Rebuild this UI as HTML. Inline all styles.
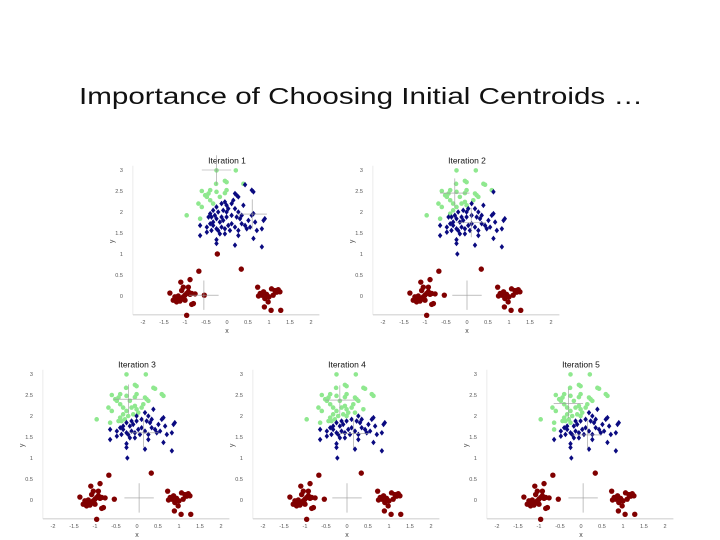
<!DOCTYPE html>
<html><head><meta charset="utf-8">
<style>
html,body{margin:0;padding:0;background:#fff;}
svg{display:block;font-family:"Liberation Sans",sans-serif;}
</style></head>
<body>
<svg id="s" width="720" height="540" viewBox="0 0 720 540">
<text x="361" y="104" text-anchor="middle" font-size="23" fill="#111" textLength="564" lengthAdjust="spacingAndGlyphs">Importance of Choosing Initial Centroids …</text>
</svg>
<script>
// cluster points (data units)
const topX = [-0.25,0.21,-0.05,-0.01,0.39,0.43,-0.6,-0.52,-0.44,-0.4,-0.25,-0.05,-0.01,-0.26,-0.68,-0.6,-0.4,-0.33,-0.96,-0.64,-0.17,-0.48,
0.19,0.23,0.27,0.15,0.11,-0.05,-0.01,-0.13,-0.25,-0.33,-0.40,-0.37,-0.29,-0.21,-0.09,0.03,0.19,0.27,0.35,0.23,0.11,-0.01,-0.09,-0.17,-0.25,-0.33,-0.40,-0.48,-0.64,-0.64,-0.48,-0.37,-0.25,-0.13,-0.05,0.03,0.11,0.19,0.27,0.35,0.43,0.51,0.59,0.63,0.67,0.55,0.47,0.71,0.83,0.87,0.90,0.63,0.83,0.19,0.27,-0.05,-0.25,-0.25,-0.21,-0.17,-0.33,0.07,0.31,0.39,0.59,0.63,-0.13,-0.44,-0.01];
const topY = [2.99,2.99,2.74,2.71,2.67,2.65,2.5,2.4,2.44,2.52,2.48,2.45,2.52,2.67,2.2,2.12,2.28,2.2,1.92,1.84,2.36,2.36,
2.44,2.40,2.36,2.28,2.20,2.24,2.16,2.20,2.12,2.04,1.96,1.88,1.92,2.00,2.04,2.08,2.08,2.00,1.92,1.88,1.92,1.88,1.80,1.76,1.84,1.76,1.72,1.64,1.68,1.44,1.52,1.56,1.60,1.64,1.60,1.68,1.72,1.64,1.56,1.72,1.68,1.80,1.92,1.96,1.76,1.64,1.60,1.56,1.60,1.80,1.84,1.37,1.17,1.21,1.44,1.48,1.34,1.25,1.56,1.48,1.68,1.56,1.84,2.16,2.52,2.48,1.88,1.88,2.00];
const lowX = [-1.36,-1.24,-1.16,-1.2,-1.12,-1.08,-1.04,-1.0,-0.96,-0.92,-0.88,-0.84,-1.08,-1.04,-0.92,-0.88,-1.1,-0.67,-0.8,-0.84,-0.96,-0.54,-1.28,-1.2,-1.0,-1.14,-0.76,-1.16,
0.73,0.79,0.87,0.94,1.0,1.06,1.14,1.22,1.26,1.1,0.9,0.98,0.89,1.05,1.28,0.75,1.18,0.83,-0.23,0.34];
const lowY = [0.07,-0.02,-0.09,-0.14,-0.12,-0.06,-0.02,0.02,0.06,0.1,0.04,0.06,0.13,0.21,0.21,0.39,0.33,0.59,-0.18,-0.2,-0.46,0.02,-0.1,-0.06,-0.1,-0.05,0.05,0.0,
0.21,0.06,0.1,0.04,-0.02,0.17,0.13,0.15,0.1,0.02,-0.06,-0.14,-0.26,-0.34,-0.34,0.0,0.09,0.02,1.0,0.64];
// centroids per iteration: [green, blue, red]
const iterations = [1,2,3,4,5];
const greenC = [[-0.25,3.0],[-0.29,2.45],[-0.2,2.4],[-0.17,2.38],[-0.3,2.3]];
const blueC  = [[0.6,1.95],[0.1,1.75],[0.15,1.6],[0.15,1.58],[0.15,1.55]];
const redC   = [[-0.55,0.02],[0.0,0.02],[0.05,0.05],[0.0,0.05],[0.05,0.05]];
const xTicks = [-2,-1.5,-1,-0.5,0,0.5,1,1.5,2];
const yTicks = [0,0.5,1,1.5,2,2.5,3];

const layout = [{cx:227,cy:296},{cx:467,cy:296},{cx:137,cy:500},{cx:347,cy:500},{cx:581,cy:500}];
const K = 42;
const NS = "http://www.w3.org/2000/svg";
const svg = document.getElementById('s');
function mk(tag, at, parent){const e=document.createElementNS(NS,tag);for(const k in at)e.setAttribute(k,at[k]);(parent||svg).appendChild(e);return e;}
const colors = ['#8fe88f','#0a0a80','#800000'];
function d2(a,b){return (a[0]-b[0])**2+(a[1]-b[1])**2;}

iterations.forEach((it,i)=>{
  const L = layout[i];
  const sx = v => L.cx + K*v;
  const sy = v => L.cy - K*v;
  const g = mk('g',{});
  
  
  const xa = mk('line',{x1:sx(-2.24),x2:sx(2.2),y1:sy(-0.45),y2:sy(-0.45),stroke:'#bbb','stroke-width':0.8},g);
  
  
  const ya = mk('line',{x1:sx(-2.24),x2:sx(-2.24),y1:sy(-0.45),y2:sy(3.1),stroke:'#ddd','stroke-width':0.6},g);
  
  
  xTicks.forEach(t=>{
    const tx = mk('text',{x:sx(t),y:sy(-0.45)+9,'font-size':5.5,'text-anchor':'middle',fill:'#555'},g);
    tx.textContent = t;
    
    
  });
  yTicks.forEach(t=>{
    const tx = mk('text',{x:sx(-2.24)-10,y:sy(t)+2,'font-size':5.5,'text-anchor':'end',fill:'#555'},g);
    tx.textContent = t;
    
    
  });
  const xl = mk('text',{x:sx(0),y:sy(-0.45)+18,'font-size':7,'text-anchor':'middle',fill:'#444'},g);
  xl.textContent='x';
  
  
  const yl = mk('text',{x:0,y:0,'font-size':7,'text-anchor':'middle',fill:'#444',transform:`translate(${sx(-2.24)-19},${sy(1.3)}) rotate(-90)`},g);
  yl.textContent='y';
  
  
  const ti = mk('text',{x:sx(0),y:sy(3.15),'font-size':8.5,'text-anchor':'middle',fill:'#111'},g);
  ti.textContent='Iteration '+it;
  
  
  const cents = [greenC[i],blueC[i],redC[i]];
  function cls(p){let b=0,bd=1e9;cents.forEach((c,j)=>{const d=d2(p,c);if(d<bd){bd=d;b=j;}});return b;}
  const allX = topX.concat(lowX), allY = topY.concat(lowY);
  allX.forEach((x,k)=>{
    const y = allY[k];
    const c = cls([x,y]);
    let e;
    if(c===2){
      e = mk('circle',{cx:sx(x),cy:sy(y),r:2.7,fill:colors[2]},g);
    } else if(c===1){
      const px=sx(x),py=sy(y),r=2.8;
      e = mk('path',{d:`M${px},${py-r}L${px+r*0.8},${py}L${px},${py+r}L${px-r*0.8},${py}Z`,fill:colors[1]},g);
    } else {
      e = mk('circle',{cx:sx(x),cy:sy(y),r:2.3,fill:colors[0]},g);
    }
    
    
  });
  cents.forEach(c=>{
    const h = 0.35;
    const cg = mk('g',{stroke:'#999','stroke-width':0.6},g);
    
    
    mk('line',{x1:sx(c[0]-h),x2:sx(c[0]+h),y1:sy(c[1]),y2:sy(c[1])},cg);
    mk('line',{x1:sx(c[0]),x2:sx(c[0]),y1:sy(c[1]-h),y2:sy(c[1]+h)},cg);
  });
});
</script>
</body></html>
